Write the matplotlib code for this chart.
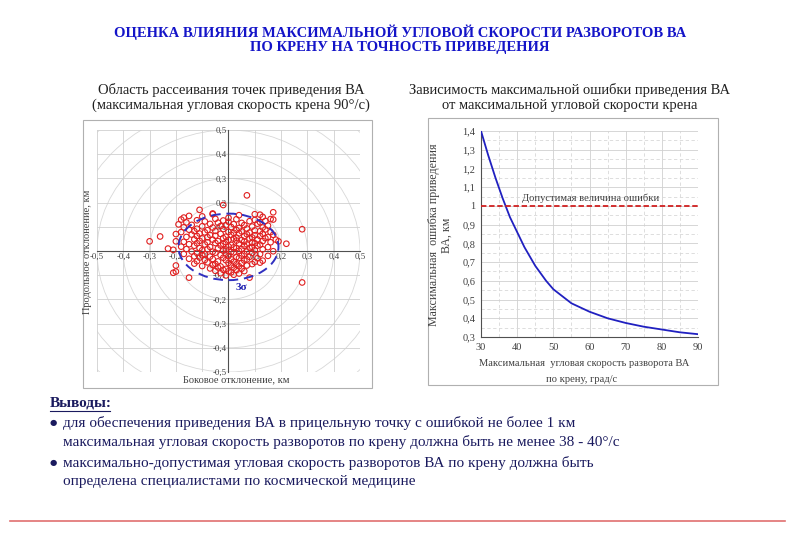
import numpy as np
import matplotlib
matplotlib.use("Agg")
import matplotlib.pyplot as plt
from matplotlib.patches import Ellipse, Circle, Rectangle
from matplotlib.lines import Line2D

plt.rcParams['font.family'] = ['Liberation Serif', 'DejaVu Serif']

# --- left chart: scatter of landing points (km) ---
scatter_pts = [
    # outliers
    (0.07, 0.23), (-0.02, 0.19), (-0.11, 0.17), (-0.06, 0.155), (-0.30, 0.04), (-0.26, 0.06),
    (-0.20, 0.07), (-0.20, 0.04), (-0.23, 0.01), (-0.21, 0.005), (-0.20, -0.06), (-0.21, -0.09),
    (-0.20, -0.085), (-0.15, -0.11), (0.28, 0.09), (0.28, -0.13), (0.22, 0.03), (0.17, 0.16),
    (0.17, 0.13), (0.08, -0.11), (-0.18, 0.13), (-0.19, 0.11), (0.12, 0.15), (0.19, 0.04),
    # core
    (-0.06, 0.152), (0.04, 0.148), (0.10, 0.152), (-0.15, 0.145),
    (-0.17, 0.138), (-0.10, 0.143), (0.00, 0.137), (0.13, 0.141),
    (-0.12, 0.127), (-0.05, 0.133), (-0.02, 0.126), (0.03, 0.131), (0.10, 0.128), (0.14, 0.124), (0.16, 0.132),
    (-0.16, 0.118), (-0.09, 0.122), (-0.04, 0.117), (0.00, 0.121), (0.05, 0.116), (0.08, 0.123), (0.12, 0.119),
    (-0.14, 0.108), (-0.07, 0.112), (-0.01, 0.106), (0.02, 0.111), (0.06, 0.107), (0.11, 0.113), (0.15, 0.105),
    (-0.17, 0.098), (-0.10, 0.102), (-0.06, 0.097), (-0.03, 0.103), (0.01, 0.099), (0.04, 0.095), (0.09, 0.101), (0.13, 0.097),
    (-0.15, 0.088), (-0.12, 0.092), (-0.08, 0.086), (-0.02, 0.091), (0.03, 0.087), (0.07, 0.093), (0.10, 0.085), (0.14, 0.089),
    (-0.18, 0.078), (-0.13, 0.082), (-0.09, 0.077), (-0.05, 0.083), (0.00, 0.079), (0.02, 0.075), (0.05, 0.081),
    (0.08, 0.076), (0.12, 0.082), (0.16, 0.078),
    (-0.14, 0.068), (-0.11, 0.072), (-0.07, 0.066), (-0.03, 0.071), (0.01, 0.067), (0.04, 0.073), (0.07, 0.069),
    (0.10, 0.065), (0.13, 0.071), (0.17, 0.067),
    (-0.16, 0.058), (-0.12, 0.062), (-0.08, 0.057), (-0.05, 0.063), (-0.01, 0.059), (0.03, 0.055), (0.06, 0.061),
    (0.09, 0.056), (0.12, 0.062), (0.15, 0.058),
    (-0.13, 0.048), (-0.10, 0.052), (-0.06, 0.047), (-0.02, 0.053), (0.00, 0.046), (0.02, 0.051), (0.05, 0.045),
    (0.08, 0.052), (0.11, 0.048), (0.14, 0.053), (0.18, 0.047),
    (-0.17, 0.038), (-0.11, 0.042), (-0.08, 0.036), (-0.04, 0.041), (-0.01, 0.037), (0.03, 0.043), (0.06, 0.039),
    (0.09, 0.035), (0.13, 0.041), (0.16, 0.036),
    (-0.15, 0.028), (-0.12, 0.032), (-0.09, 0.027), (-0.05, 0.033), (-0.02, 0.029), (0.01, 0.025), (0.04, 0.031),
    (0.07, 0.027), (0.10, 0.032), (0.12, 0.026),
    (-0.18, 0.018), (-0.13, 0.022), (-0.07, 0.017), (-0.03, 0.023), (0.00, 0.019), (0.02, 0.015), (0.06, 0.021),
    (0.09, 0.017), (0.11, 0.022), (0.15, 0.016),
    (-0.16, 0.008), (-0.11, 0.012), (-0.08, 0.007), (-0.04, 0.011), (-0.01, 0.006), (0.03, 0.012), (0.05, 0.008),
    (0.08, 0.013), (0.13, 0.007),
    (-0.14, -0.002), (-0.10, 0.003), (-0.06, -0.003), (-0.02, 0.002), (0.01, -0.004), (0.04, 0.001), (0.07, -0.002),
    (0.10, 0.003), (0.17, -0.001),
    (-0.17, -0.012), (-0.12, -0.008), (-0.09, -0.013), (-0.05, -0.007), (-0.01, -0.011), (0.02, -0.006),
    (0.06, -0.012), (0.09, -0.008), (0.12, -0.013),
    (-0.13, -0.022), (-0.10, -0.018), (-0.07, -0.023), (-0.03, -0.017), (0.00, -0.021), (0.03, -0.025),
    (0.05, -0.019), (0.08, -0.024), (0.15, -0.02),
    (-0.15, -0.032), (-0.11, -0.027), (-0.06, -0.033), (-0.02, -0.028), (0.01, -0.034), (0.04, -0.029),
    (0.07, -0.035), (0.11, -0.03),
    (-0.12, -0.042), (-0.09, -0.037), (-0.04, -0.043), (-0.01, -0.038), (0.02, -0.044), (0.06, -0.039),
    (0.10, -0.045), (0.13, -0.04),
    (-0.13, -0.052), (-0.08, -0.047), (-0.05, -0.053), (0.00, -0.049), (0.03, -0.055), (0.05, -0.05),
    (0.09, -0.054), (0.12, -0.048),
    (-0.10, -0.062), (-0.06, -0.058), (-0.03, -0.064), (0.01, -0.059), (0.04, -0.063), (0.07, -0.06),
    (-0.07, -0.072), (-0.04, -0.068), (-0.01, -0.074), (0.02, -0.069), (0.05, -0.073),
    (-0.05, -0.082), (-0.02, -0.078), (0.00, -0.084), (0.03, -0.079), (0.06, -0.083),
    (-0.03, -0.092), (0.01, -0.088), (0.04, -0.093),
    (-0.01, -0.101), (0.02, -0.098),
]
scatter_x = [p[0] for p in scatter_pts]
scatter_y = [p[1] for p in scatter_pts]

# 3-sigma ellipse
ell_center = (0.0, 0.017)
ell_width = 0.38
ell_height = 0.275

# --- right chart: max error vs max roll rate ---
rate_deg_s = [30, 32, 34, 36, 38, 40, 42, 45, 48, 50, 55, 60, 65, 70, 75, 80, 85, 90]
max_error_km = [1.40, 1.27, 1.15, 1.04, 0.94, 0.86, 0.78, 0.68, 0.60, 0.555, 0.48, 0.435, 0.40, 0.375, 0.355, 0.34, 0.325, 0.315]
allowed_error = 1.0

fig = plt.figure(figsize=(8, 5.54), dpi=100)

navy = '#1a1a5e'
title_blue = '#1414c8'
fig.text(0.5, 1 - 32 / 554, "ОЦЕНКА ВЛИЯНИЯ МАКСИМАЛЬНОЙ УГЛОВОЙ СКОРОСТИ РАЗВОРОТОВ ВА",
         ha='center', va='center', fontsize=10.5, fontweight='bold', color=title_blue)
fig.text(0.5, 1 - 48 / 554, "ПО КРЕНУ НА ТОЧНОСТЬ ПРИВЕДЕНИЯ",
         ha='center', va='center', fontsize=10.5, fontweight='bold', color=title_blue)

for xc, y, s in [(231, 90, "Область рассеивания точек приведения ВА"),
                 (231, 105, "(максимальная угловая скорость крена 90°/с)"),
                 (570, 90, "Зависимость максимальной ошибки приведения ВА"),
                 (570, 105, "от максимальной угловой скорости крена")]:
    fig.text(xc / 800, 1 - y / 554, s, ha='center', va='center', fontsize=10.5, color='#202020')

# boxes round the two charts
for x0, y0, x1, y1 in [(83, 120, 372, 388), (428, 118, 718, 385)]:
    fig.add_artist(Rectangle((x0 / 800, 1 - y1 / 554), (x1 - x0) / 800, (y1 - y0) / 554,
                             transform=fig.transFigure, fill=False, edgecolor='#b0b0b0', lw=0.8))

# left chart
ax1 = fig.add_axes([97 / 800, 1 - 372 / 554, (360 - 97) / 800, (372 - 130) / 554])
ax1.set_xlim(-0.5, 0.5)
ax1.set_ylim(-0.5, 0.5)
ticks = np.round(np.arange(-0.5, 0.51, 0.1), 1)
ax1.set_xticks(ticks)
ax1.set_yticks(ticks)
ax1.grid(True, color='#d0d0d0', lw=0.6)
for r in [0.1, 0.2, 0.3, 0.4, 0.5, 0.6, 0.7]:
    ax1.add_patch(Circle((0, 0), r, fill=False, edgecolor='#d8d8d8', lw=0.6, zorder=1))
for s in ['top', 'right']:
    ax1.spines[s].set_visible(False)
ax1.spines['left'].set_position('zero')
ax1.spines['bottom'].set_position('zero')
ax1.spines['left'].set_color('#505050')
ax1.spines['bottom'].set_color('#505050')
ax1.tick_params(length=0, labelsize=6.3, colors='#404040', pad=1)
fmt = lambda v: "0" if v == 0 else f"{v:.1f}".replace('.', ',')
ax1.set_xticklabels([fmt(v) for v in ticks])
ax1.set_yticklabels([fmt(v) for v in ticks])
ax1.scatter(scatter_x, scatter_y, s=16, facecolors='none', edgecolors='#e02020', linewidths=0.8, zorder=3)
ax1.add_patch(Ellipse(ell_center, ell_width, ell_height, fill=False, edgecolor='#3030c0',
                      lw=1.4, ls=(0, (5, 3)), zorder=4))
ax1.text(0.05, -0.15, "3σ", color='#2020b0', fontsize=8, fontweight='bold', ha='center', va='center')
fig.text(87 / 800, 1 - 252 / 554, "Продольное отклонение, км", rotation=90, ha='center', va='center',
         fontsize=7.5, color='#404040')
fig.text(236 / 800, 1 - 380 / 554, "Боковое отклонение, км", ha='center', va='center',
         fontsize=7.5, color='#404040')

# right chart
ax2 = fig.add_axes([481 / 800, 1 - 337 / 554, (698 - 481) / 800, (337 - 131) / 554])
ax2.set_xlim(30, 90)
ax2.set_ylim(0.3, 1.4)
yt = np.round(np.arange(0.3, 1.41, 0.1), 1)
ax2.set_xticks(np.arange(30, 91, 10))
ax2.set_yticks(yt)
ax2.set_xticks(np.arange(35, 90, 10), minor=True)
ax2.set_yticks(np.round(np.arange(0.35, 1.4, 0.1), 2), minor=True)
ax2.grid(True, which='major', color='#d0d0d0', lw=0.6)
ax2.grid(True, which='minor', color='#d8d8d8', lw=0.6, ls=(0, (4, 3)))
ax2.set_yticklabels(["1" if abs(v - 1) < 1e-9 else f"{v:.1f}".replace('.', ',') for v in yt])
for s in ['top', 'right']:
    ax2.spines[s].set_visible(False)
ax2.spines['left'].set_color('#505050')
ax2.spines['bottom'].set_color('#505050')
ax2.tick_params(which='both', length=0, labelsize=7.5, colors='#404040', pad=4)
ax2.plot(rate_deg_s, max_error_km, color='#2020c0', lw=1.3, zorder=3)
ax2.axhline(allowed_error, color='#d02020', lw=1.3, ls=(0, (3, 1.5)), zorder=3)
ax2.text(60.4, 1.015, "Допустимая величина ошибки", ha='center', va='bottom', fontsize=7.6, color='#404040')
fig.text(440 / 800, 1 - 235 / 554, "Максимальная  ошибка приведения\nВА, км", rotation=90, ha='center',
         va='center', fontsize=8.6, color='#404040', linespacing=1.1)
fig.text(584 / 800, 1 - 363 / 554, "Максимальная  угловая скорость разворота ВА", ha='center', va='center',
         fontsize=7.6, color='#404040')
fig.text(582 / 800, 1 - 380 / 554, "по крену, град/с", ha='center', va='center', fontsize=7.6, color='#404040')

# conclusions
fig.text(50 / 800, 1 - 403 / 554, "Выводы:", ha='left', va='center', fontsize=11, fontweight='bold',
         color=navy)
fig.add_artist(Line2D([50 / 800, 110 / 800], [1 - 411 / 554, 1 - 411 / 554], color=navy, lw=0.8))
lines = [
    (423, "●", "для обеспечения приведения ВА в прицельную точку с ошибкой не более 1 км"),
    (442, "", "максимальная угловая скорость разворотов по крену должна быть не менее 38 - 40°/с"),
    (463, "●", "максимально-допустимая угловая скорость разворотов ВА по крену должна быть"),
    (482, "", "определена специалистами по космической медицине"),
]
for y, bullet, txt in lines:
    if bullet:
        fig.text(50 / 800, 1 - y / 554, bullet, ha='left', va='center', fontsize=6, color=navy,
                 family='DejaVu Sans')
    fig.text(63 / 800, 1 - y / 554, txt, ha='left', va='center', fontsize=11, color=navy)

# bottom red line
fig.add_artist(Line2D([10 / 800, 785 / 800], [1 - 521 / 554, 1 - 521 / 554], color='#e07070', lw=1.2))

fig.savefig("out.png", dpi=100)
